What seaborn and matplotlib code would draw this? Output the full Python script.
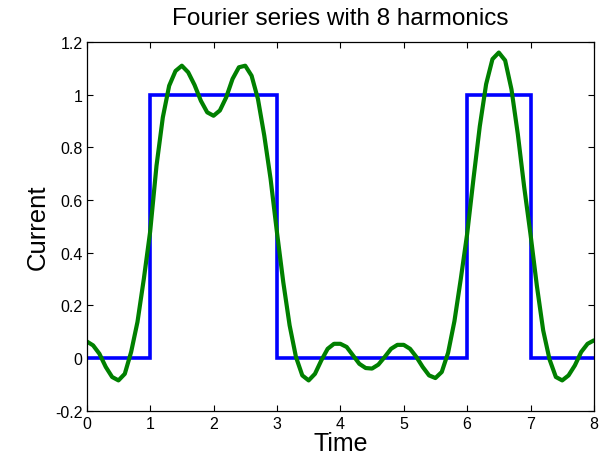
import numpy as np
import pandas as pd
import seaborn as sns
import matplotlib.pyplot as plt

# square wave breakpoints (level holds until next time)
step_times = [0, 1, 3, 6, 7, 8]
step_levels = [0, 1, 0, 1, 0, 0]

# fourier approximation, every 0.1 time units
sample_times = np.linspace(0, 8, 81)
fourier_vals = [
    0.063, 0.048, 0.016, -0.034, -0.072, -0.085, -0.060, 0.023, 0.137, 0.300,
    0.480, 0.730, 0.914, 1.034, 1.090, 1.110, 1.085, 1.037, 0.977, 0.933,
    0.920, 0.940, 0.990, 1.060, 1.104, 1.110, 1.072, 0.984, 0.845, 0.680,
    0.478, 0.288, 0.124, 0.004, -0.066, -0.085, -0.060, -0.009, 0.035, 0.054,
    0.054, 0.042, 0.010, -0.022, -0.038, -0.040, -0.025, 0.004, 0.035, 0.050,
    0.050, 0.035, 0.004, -0.034, -0.066, -0.076, -0.053, 0.020, 0.140, 0.300,
    0.470, 0.680, 0.880, 1.040, 1.135, 1.160, 1.130, 1.020, 0.850, 0.650,
    0.470, 0.275, 0.105, -0.005, -0.072, -0.085, -0.066, -0.028, 0.023, 0.054,
    0.067,
]

x_ticks = [0, 1, 2, 3, 4, 5, 6, 7, 8]
y_ticks = [-0.2, 0, 0.2, 0.4, 0.6, 0.8, 1, 1.2]
y_tick_labels = ['-0.2', '0', '0.2', '0.4', '0.6', '0.8', '1', '1.2']

sns.set_style('ticks')
plt.rcParams['font.family'] = ['Liberation Sans', 'DejaVu Sans']
plt.rcParams['axes.unicode_minus'] = False
plt.rcParams['text.color'] = 'black'
plt.rcParams['axes.labelcolor'] = 'black'

fig = plt.figure(figsize=(6.11, 4.6), dpi=100)
ax = fig.add_axes([0.142, 0.105, 0.830, 0.8015])

square = pd.DataFrame({'t': step_times, 'i': step_levels})
approx = pd.DataFrame({'t': sample_times, 'i': fourier_vals})

sns.lineplot(data=square, x='t', y='i', ax=ax, color='#0000ff', linewidth=2.6,
             drawstyle='steps-post', estimator=None, sort=False,
             solid_joinstyle='miter')
sns.lineplot(data=approx, x='t', y='i', ax=ax, color='#008000', linewidth=3.0,
             estimator=None, sort=False, solid_joinstyle='round',
             solid_capstyle='round')

ax.set_xlim(0, 8)
ax.set_ylim(-0.2, 1.2)
ax.set_xticks(x_ticks)
ax.set_xticklabels([str(v) for v in x_ticks])
ax.set_yticks(y_ticks)
ax.set_yticklabels(y_tick_labels)
ax.tick_params(direction='in', length=4, width=0.8, labelsize=11.5, colors='black',
               top=True, right=True, pad=3)
ax.tick_params(axis='x', pad=4)
ax.tick_params(axis='y', labelright=False)
ax.tick_params(axis='x', labeltop=False)
for sp in ax.spines.values():
    sp.set_visible(True)
    sp.set_color('black')
    sp.set_linewidth(0.9)

ax.set_title('Fourier series with 8 harmonics', fontsize=17.5, pad=13)
ax.set_xlabel('Time', fontsize=18, labelpad=0)
ax.set_ylabel('Current', fontsize=18.5, labelpad=4)

fig.savefig('out.png', dpi=100)
